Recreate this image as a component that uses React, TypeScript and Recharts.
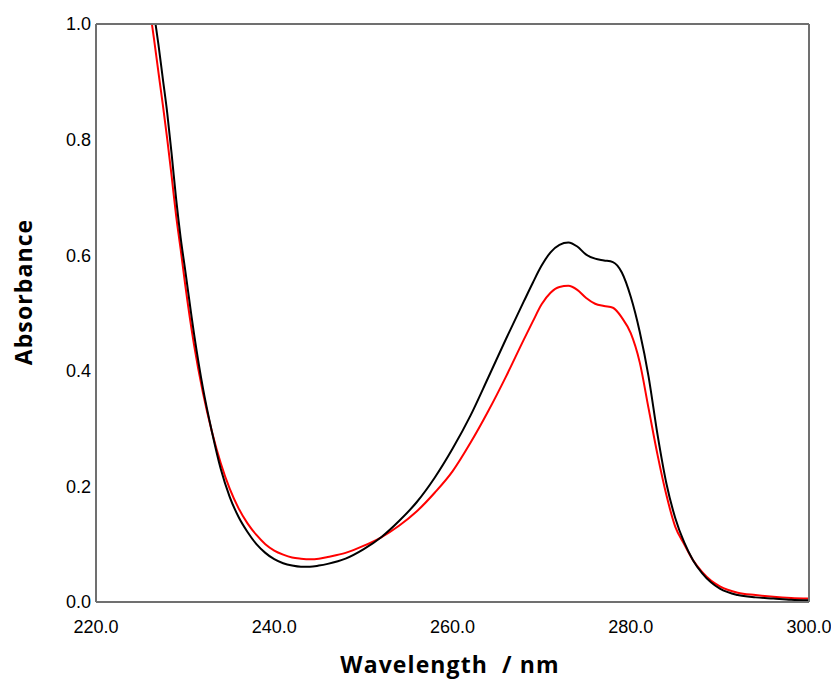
import React from 'react';
import { LineChart, Line, XAxis, YAxis } from 'recharts';

const wavelengths = [
  226, 226.5, 227, 227.5, 228, 228.5, 229, 229.5, 230, 231, 232, 233, 234, 235, 236, 237, 238, 239,
  240, 241, 242, 243, 244, 245, 246, 248, 250, 252, 254, 256, 258, 260, 262, 264, 266, 268, 269,
  270, 271, 272, 273, 274, 275, 276, 277, 278, 279, 280, 281, 282, 283, 284, 285, 286, 287, 288,
  289, 290, 292, 294, 296, 298, 300,
];

const blackAbs = [
  1.08, 1.02, 0.965, 0.905, 0.845, 0.773, 0.696, 0.63, 0.575, 0.464, 0.37, 0.295, 0.23, 0.182,
  0.147, 0.121, 0.1, 0.085, 0.074, 0.067, 0.063, 0.061, 0.061, 0.063, 0.066, 0.075, 0.091, 0.112,
  0.14, 0.173, 0.215, 0.265, 0.322, 0.388, 0.455, 0.52, 0.552, 0.582, 0.605, 0.618, 0.622, 0.615,
  0.601, 0.594, 0.591, 0.588, 0.57, 0.528, 0.468, 0.39, 0.29, 0.205, 0.145, 0.103, 0.072, 0.05,
  0.034, 0.023, 0.012, 0.008, 0.006, 0.004, 0.003,
];

const redAbs = [
  1.03, 0.975, 0.917, 0.86, 0.8, 0.735, 0.667, 0.61, 0.55, 0.445, 0.362, 0.295, 0.24, 0.196, 0.162,
  0.136, 0.116, 0.1, 0.089, 0.082, 0.077, 0.075, 0.074, 0.075, 0.078, 0.085, 0.097, 0.112, 0.132,
  0.157, 0.189, 0.226, 0.275, 0.33, 0.39, 0.454, 0.485, 0.515, 0.535, 0.545, 0.547, 0.54, 0.526,
  0.516, 0.512, 0.509, 0.492, 0.465, 0.415, 0.335, 0.255, 0.185, 0.13, 0.1, 0.072, 0.052, 0.037,
  0.027, 0.016, 0.012, 0.009, 0.007, 0.006,
];

const xTicks = [220, 240, 260, 280, 300];
const yTicks = [0, 0.2, 0.4, 0.6, 0.8, 1.0];

const data = wavelengths.map((w, i) => ({ w, black: blackAbs[i], red: redAbs[i] }));

const AXIS = '#707070';
const tickFont = { fill: '#000', fontSize: 18, fontFamily: 'Liberation Sans, Arial, sans-serif' };
const titleFont = 'Open Sans, sans-serif';

export default function App() {
  return (
    <div style={{ width: 831, height: 680 }}>
      <style>{`html, body { margin: 0; padding: 0; overflow: hidden; }`}</style>
      <LineChart
        width={831}
        height={680}
        data={data}
        margin={{ top: 24, right: 22, left: 0, bottom: 0 }}
      >
        <XAxis
          xAxisId="b"
          dataKey="w"
          type="number"
          domain={[220, 300]}
          allowDataOverflow
          ticks={xTicks}
          tickFormatter={(v: number) => v.toFixed(1)}
          axisLine={{ stroke: AXIS, strokeWidth: 2 }}
          tickLine={false}
          tickSize={0}
          tickMargin={18}
          height={78}
          tick={tickFont}
          label={() => (
            <text
              x={450}
              y={673}
              textAnchor="middle"
              fontFamily={titleFont}
              fontWeight="bold"
              fontSize={23}
              letterSpacing={1.1}
              fill="#000"
              style={{ whiteSpace: 'pre' }}
            >
              {'Wavelength  / nm'}
            </text>
          )}
        />
        <XAxis
          xAxisId="b2"
          orientation="bottom"
          mirror
          dataKey="w"
          type="number"
          domain={[220, 300]}
          allowDataOverflow
          ticks={xTicks}
          tick={false}
          tickLine={{ stroke: AXIS, strokeWidth: 2 }}
          tickSize={9}
          axisLine={false}
        />
        <XAxis
          xAxisId="t"
          orientation="top"
          mirror
          dataKey="w"
          type="number"
          domain={[220, 300]}
          allowDataOverflow
          ticks={xTicks}
          tick={false}
          tickLine={{ stroke: AXIS, strokeWidth: 2 }}
          tickSize={9}
          axisLine={{ stroke: AXIS, strokeWidth: 2 }}
        />
        <YAxis
          yAxisId="l"
          type="number"
          domain={[0, 1]}
          allowDataOverflow
          ticks={yTicks}
          tickFormatter={(v: number) => v.toFixed(1)}
          axisLine={{ stroke: AXIS, strokeWidth: 2 }}
          tickLine={false}
          tickSize={0}
          tickMargin={5}
          width={96}
          tick={tickFont}
          label={() => (
            <text
              x={23}
              y={292}
              transform="rotate(-90 23 292)"
              textAnchor="middle"
              dominantBaseline="central"
              fontFamily={titleFont}
              fontWeight="bold"
              fontSize={23}
              letterSpacing={1.1}
              fill="#000"
            >
              Absorbance
            </text>
          )}
        />
        <YAxis
          yAxisId="l2"
          orientation="left"
          mirror
          type="number"
          domain={[0, 1]}
          allowDataOverflow
          ticks={yTicks}
          tick={false}
          tickLine={{ stroke: AXIS, strokeWidth: 2 }}
          tickSize={9}
          axisLine={false}
        />
        <YAxis
          yAxisId="r"
          orientation="right"
          mirror
          type="number"
          domain={[0, 1]}
          allowDataOverflow
          ticks={yTicks}
          tick={false}
          tickLine={{ stroke: AXIS, strokeWidth: 2 }}
          tickSize={9}
          axisLine={{ stroke: AXIS, strokeWidth: 2 }}
        />
        <Line
          xAxisId="b"
          yAxisId="l"
          type="monotone"
          dataKey="red"
          stroke="#ff0000"
          strokeWidth={2}
          dot={false}
          isAnimationActive={false}
        />
        <Line
          xAxisId="b"
          yAxisId="l"
          type="monotone"
          dataKey="black"
          stroke="#000000"
          strokeWidth={2}
          dot={false}
          isAnimationActive={false}
        />
      </LineChart>
    </div>
  );
}
